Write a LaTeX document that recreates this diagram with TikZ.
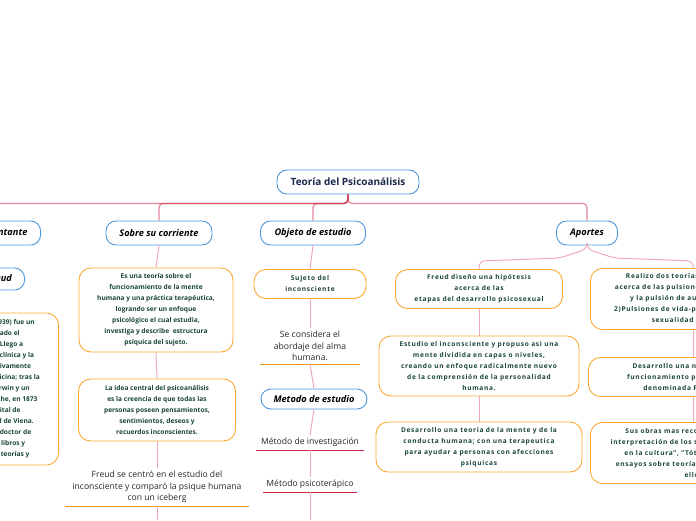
\documentclass[tikz,border=0pt]{standalone}
\usepackage{fontspec}
\setmainfont{Open Sans}
\usepackage{tikz}
\usetikzlibrary{positioning}
\definecolor{topicblue}{RGB}{74,150,220}
\definecolor{leaforange}{RGB}{250,170,50}
\definecolor{leafgreen}{RGB}{25,70,55}
\definecolor{linkpink}{RGB}{238,170,188}
\definecolor{linkred}{RGB}{205,40,70}
\definecolor{rootnavy}{RGB}{25,40,75}
\definecolor{underorange}{RGB}{245,150,30}

\begin{document}
\begin{tikzpicture}[x=1pt,y=-1pt,
root/.style={draw=topicblue,fill=white,rounded corners=10pt,line width=0.9pt,text=rootnavy,font=\bfseries\fontsize{10}{12}\selectfont,minimum height=24pt},
topic/.style={draw=topicblue,fill=white,rounded corners=10pt,line width=0.9pt,font=\bfseries\itshape\fontsize{9.2}{11}\selectfont,minimum height=24pt},
leaf/.style={draw=leaforange,fill=white,rounded corners=12pt,line width=0.9pt,text=leafgreen,align=center,font=\bfseries\fontsize{6.6}{11}\selectfont},
wide/.style={font=\bfseries\fontsize{6.6}{11}\selectfont\addfontfeature{LetterSpace=10.5}},
note/.style={align=center,text=black!85,font=\fontsize{8.6}{11.5}\selectfont,inner ysep=3pt},
branch/.style={linkred,opacity=0.55,line width=1.3pt,rounded corners=4pt},
stem/.style={linkpink,line width=1pt,rounded corners=6pt}]
\useasboundingbox (0,0) rectangle (696,520);
\clip (0,0) rectangle (696,520);

\node[root,minimum width=142pt] (root) at (348,182) {Teoría del Psicoanálisis};
\node[topic,minimum width=90pt,anchor=east] (rep) at (41,233) {Representante};
\node[topic,minimum width=106pt] (corr) at (159,233) {Sobre su corriente};
\node[topic,minimum width=105pt] (obj) at (313,233) {Objeto de estudio};
\node[topic,minimum width=61pt] (apo) at (587,233) {Aportes};

\draw[branch] (root.south) -- ++(0,9) -| (rep.north);
\draw[branch] (root.south) -- ++(0,9) -| (corr.north);
\draw[branch] (root.south) -- ++(0,9) -| (obj.north);
\draw[branch] (root.south) -- ++(0,9) -| (apo.north);

\node[topic,minimum width=90pt,minimum height=22pt,anchor=east] (freud) at (25,279) {Sigmund Freud};
\node[leaf,minimum width=140pt,minimum height=152pt,anchor=east] (bio) at (59,389) {Dr. Freud (1856-1939) fue un\\y es considerado el\\psicoanálisis. Llego a\\desarrollar así la clínica y la\\la teoría respectivamente\\Luego estudió medicina; tras la\\la lectura de Darwin y un\\un ensayo de Goethe, en 1873\\entró al hospital de\\y a la Universidad de Viena.\\Se graduó como doctor de\\Escribió varios libros y\\y desarrolló sus teorías y};
\draw[stem] (rep.south) -- (freud.north);
\draw[stem] (freud.south) -- (bio.north);

\node[leaf,minimum width=154pt,minimum height=84pt] (c1) at (156,310) {Es una teoría sobre el\\funcionamiento de la mente\\humana y una práctica terapéutica,\\logrando ser un enfoque\\psicológico el cual estudia,\\investiga y describe \ estructura\\psíquica del sujeto.};
\node[leaf,minimum width=157pt,minimum height=62pt] (c2) at (157,410) {La idea central del psicoanálisis\\es la creencia de que todas las\\personas poseen pensamientos,\\sentimientos, deseos y\\recuerdos inconscientes.};
\node[note,minimum width=184pt,anchor=south] (c3) at (157,506) {Freud se centró en el estudio del\\inconsciente y comparó la psique humana\\con un iceberg};
\draw[underorange,line width=1pt] (c3.south west) -- (c3.south east);
\coordinate (cend) at (157,520);
\draw[stem] (corr.south) -- (c1.north);
\draw[stem] (c1.south) -- (c2.north);
\draw[stem] (c2.south) -- (c3.north);
\draw[stem] (c3.south) -- (cend);

\node[leaf,wide,minimum width=112pt,minimum height=29pt] (o1) at (310,284) {Sujeto del\\inconsciente};
\node[note,minimum width=100pt,anchor=south] (o2) at (310,364) {Se considera el\\abordaje del alma\\humana.};
\draw[underorange,line width=1pt] (o2.south west) -- (o2.south east);
\node[topic,minimum width=106pt,minimum height=20pt] (met) at (314,399) {Metodo de estudio};
\node[note,minimum width=107pt,anchor=south] (inv) at (310,450) {Método de investigación};
\draw[linkred,line width=1pt] (inv.south west) -- (inv.south east);
\node[note,minimum width=94pt,anchor=south] (psi) at (310,492) {Método psicoterápico};
\draw[linkred,line width=1pt] (psi.south west) -- (psi.south east);
\coordinate (oend) at (310,520);
\draw[stem] (obj.south) -- (o1.north);
\draw[stem] (o1.south) -- (o2.north);
\draw[stem] (o2.south) -- (met.north);
\draw[stem] (met.south) -- (inv.north);
\draw[stem] (inv.south) -- (psi.north);
\draw[stem] (psi.south) -- (oend);

\node[leaf,wide,minimum width=167pt,minimum height=39pt] (a1) at (479,289) {Freud diseño una hipótesis\\acerca de las\\etapas del desarrollo psicosexual};
\node[leaf,wide,minimum width=200pt,minimum height=60pt] (a2) at (479,366) {Estudio el inconsciente y propuso asi una\\mente dividida en capas o niveles,\\creando un enfoque radicalmente nuevo\\de la comprensión de la personalidad\\humana.};
\node[leaf,wide,minimum width=206pt,minimum height=50pt] (a3) at (479,447) {Desarrollo una teoria de la mente y de la\\conducta humana; con una terapeutica\\para ayudar a personas con afecciones\\psiquicas};
\draw[stem] (apo.south) -- (587,249) -- (560,258) -- (479,261) -- (a1.north);
\draw[stem] (a1.south) -- (a2.north);
\draw[stem] (a2.south) -- (a3.north);

\node[leaf,wide,minimum width=206pt,minimum height=61pt,anchor=west] (b1) at (590,299) {Realizo dos teorías durante su vida\\acerca de las pulsiones: 1)Pulsión sexual\\y la pulsión de autoconservación\\2)Pulsiones de vida-pulsiones de muerte:\\sexualidad y agresión};
\node[leaf,wide,minimum width=210pt,minimum height=39pt,anchor=west] (b2) at (588,377) {Desarrollo una nueva teoría del\\funcionamiento psíquico humano,\\denominada Psicoanálisis};
\node[leaf,wide,minimum width=206pt,minimum height=61pt,anchor=west] (b3) at (590,453) {Sus obras mas reconocidas son: "La\\interpretación de los sueños", "El malestar\\en la cultura", "Tótem y tabú", "Tres\\ensayos sobre teoría sexual" y "El yo y el\\ello"};
\draw[stem] (apo.south) -- (587,249) -- (614,258) -- (b1.north|-0,261) -- (b1.north);
\draw[stem] (b1.south) -- (b2.north);
\draw[stem] (b2.south) -- (b3.north);
\end{tikzpicture}
\end{document}
